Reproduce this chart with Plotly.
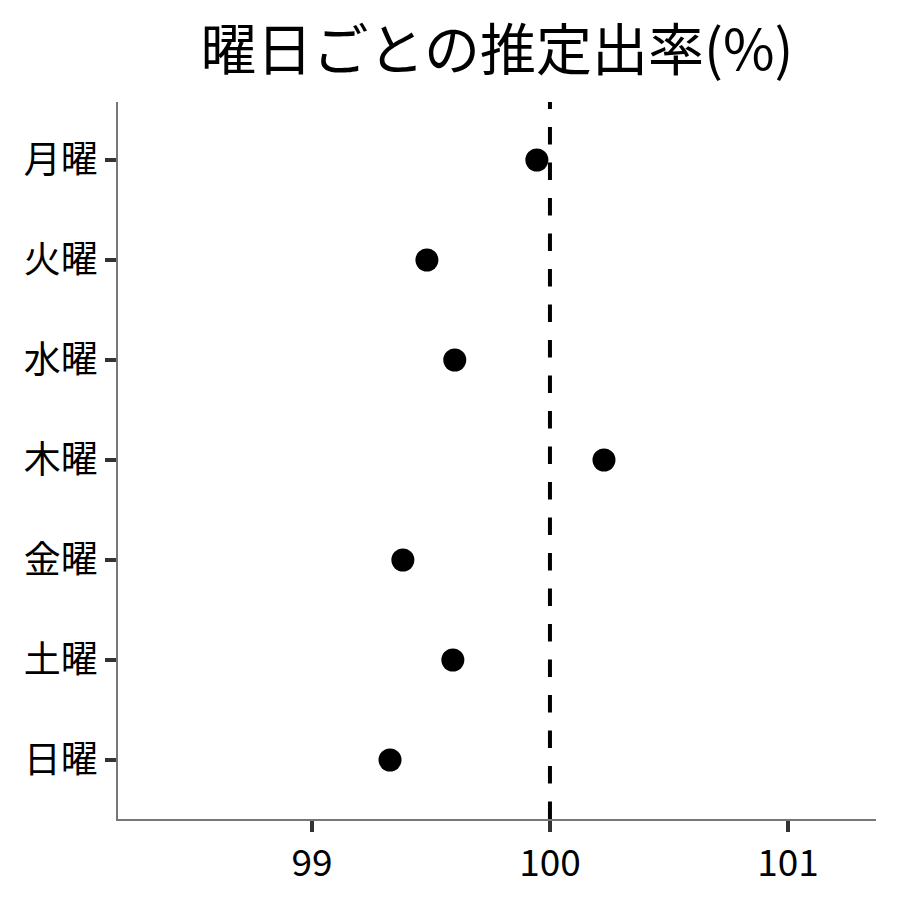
import plotly.graph_objects as go

days = ["月曜", "火曜", "水曜", "木曜", "金曜", "土曜", "日曜"]
rates = [99.945, 99.483, 99.60, 100.227, 99.382, 99.592, 99.328]
x_ticks = [99, 100, 101]
ref_value = 100

FONT = "Noto Sans CJK JP"

fig = go.Figure()
fig.add_trace(go.Scatter(
    x=rates, y=days, mode="markers",
    marker=dict(color="black", size=23),
    showlegend=False,
))
fig.add_shape(type="line", xref="x", yref="paper", x0=ref_value, x1=ref_value, y0=0, y1=1,
              line=dict(color="black", width=4, dash="17.5px,18px"))

fig.update_layout(
    width=900, height=900,
    paper_bgcolor="white", plot_bgcolor="white",
    margin=dict(l=110, r=32, t=94, b=89),
    font=dict(family=FONT, color="black"),
    title=dict(text="曜日ごとの推定出率(%)", x=0.5, xref="paper", xanchor="center",
               y=0.953, yanchor="middle", font=dict(size=56, family=FONT, color="black")),
    xaxis=dict(range=[98.185, 101.37], tickvals=x_ticks, ticktext=[str(v) for v in x_ticks],
               showgrid=False, zeroline=False, showline=True, linecolor="#777777", linewidth=1.5,
               ticks="outside", ticklen=11, tickwidth=4, tickcolor="#333333",
               tickfont=dict(size=37, family=FONT, color="black")),
    yaxis=dict(categoryorder="array", categoryarray=days, range=[6.59, -0.58],
               showgrid=False, zeroline=False, showline=True, linecolor="#777777", linewidth=1.5,
               ticks="outside", ticklen=11, tickwidth=4, tickcolor="#333333",
               tickfont=dict(size=37, family=FONT, color="black")),
)

fig.write_html("out.html")
